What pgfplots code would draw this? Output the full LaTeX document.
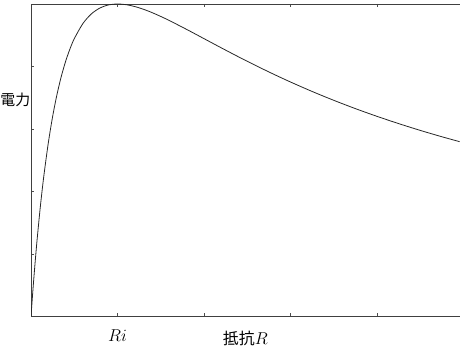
\documentclass[border=0pt]{standalone}
\usepackage{pgfplots}
\pgfplotsset{compat=1.18}
\usetikzlibrary{calc}
\usepackage{fontspec}
\newfontfamily\cjk{Noto Sans CJK JP}
\begin{document}
\begin{tikzpicture}
\begin{axis}[
  name=ax,
  scale only axis,
  width=431pt, height=314pt,
  xmin=0, xmax=4.954, ymin=0, ymax=0.25,
  axis y line*=left,
  axis line style={black!75, line width=0.7pt},
  xtick={1,2,3,4}, xticklabels={$Ri$,,,},
  ytick={0.05,0.1,0.15,0.2}, yticklabels={},
  tick align=inside, major tick length=3pt,
  tick style={black!70, line width=0.5pt},
  xtick pos=both,
  xticklabel style={anchor=base, yshift=-25pt, font=\fontsize{17}{19}\selectfont},
  xlabel={{\cjk 抵抗}$R$},
  xlabel style={at={(axis description cs:0.5,0)}, anchor=base, yshift=-28pt, font=\fontsize{16}{18}\selectfont},
]
\addplot[black!85, line width=0.8pt, smooth] coordinates {
(0,0) (0.01,0.0098) (0.02,0.01922) (0.03,0.02828) (0.05,0.04535) (0.07,0.06114)
(0.1,0.08264) (0.12,0.09566) (0.15,0.11342) (0.2,0.13889) (0.25,0.16) (0.3,0.17751)
(0.35,0.19204) (0.4,0.20408) (0.45,0.21403) (0.5,0.22222) (0.6,0.23438) (0.7,0.24221)
(0.8,0.24691) (0.9,0.24931) (1.0,0.25) (1.1,0.24943) (1.2,0.24793) (1.3,0.24575)
(1.4,0.24306) (1.5,0.24) (1.6,0.23669) (1.8,0.22959) (2.0,0.22222) (2.2,0.21484)
(2.4,0.20761) (2.6,0.20062) (2.8,0.19391) (3.0,0.1875) (3.25,0.17993) (3.5,0.17284)
(3.75,0.16620) (4.0,0.16) (4.25,0.15420) (4.5,0.14876) (4.75,0.14367) (5.0,0.13889)
};
\end{axis}
\node[anchor=east, font=\fontsize{15}{17}\selectfont\cjk, inner sep=0.5pt] at ($(ax.south west)!0.694!(ax.north west)$) {電力};
\path[use as bounding box] (-29pt,-35pt) rectangle (431pt,318pt);
\end{tikzpicture}
\end{document}
